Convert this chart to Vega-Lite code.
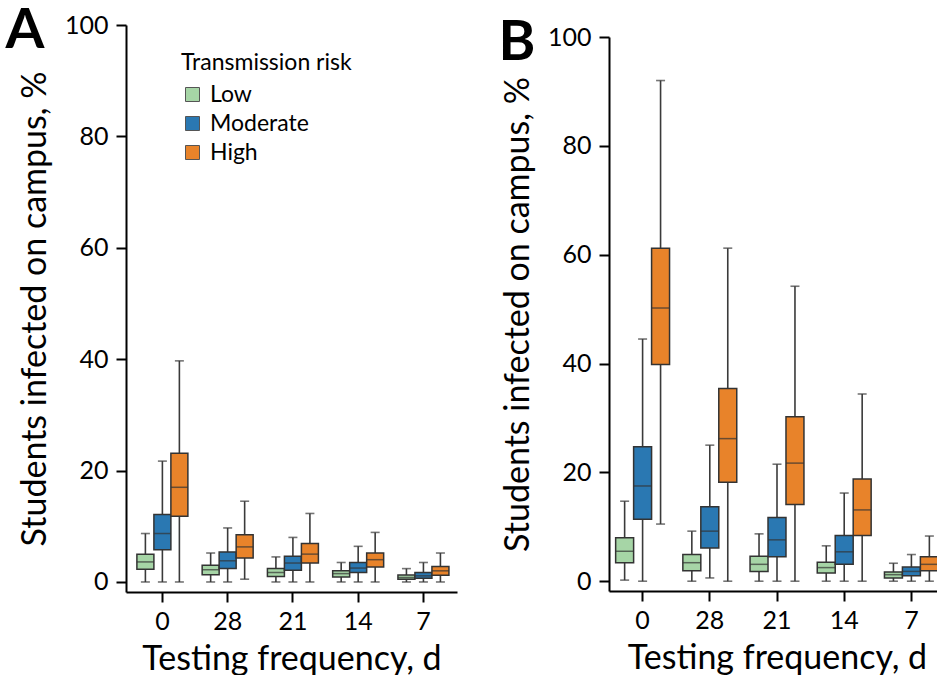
{
  "$schema": "https://vega.github.io/schema/vega-lite/v6.json",
  "description": "Box plots of students infected on campus by testing frequency and transmission risk, panels A and B.",
  "padding": {"left": 5, "top": 3, "right": 0, "bottom": 0},
  "datasets": {
    "a": [
      {"freq": 0, "risk": "Low", "lo": 0, "q1": 2.3, "med": 3.6, "q3": 5.0, "hi": 8.7},
      {"freq": 0, "risk": "Moderate", "lo": 0, "q1": 5.8, "med": 8.7, "q3": 12.1, "hi": 21.7},
      {"freq": 0, "risk": "High", "lo": 0, "q1": 11.8, "med": 17.0, "q3": 23.1, "hi": 39.7},
      {"freq": 28, "risk": "Low", "lo": 0, "q1": 1.3, "med": 2.2, "q3": 3.0, "hi": 5.2},
      {"freq": 28, "risk": "Moderate", "lo": 0, "q1": 2.4, "med": 3.8, "q3": 5.4, "hi": 9.7},
      {"freq": 28, "risk": "High", "lo": 0.5, "q1": 4.3, "med": 6.3, "q3": 8.5, "hi": 14.5},
      {"freq": 21, "risk": "Low", "lo": 0, "q1": 1.0, "med": 1.7, "q3": 2.4, "hi": 4.5},
      {"freq": 21, "risk": "Moderate", "lo": 0, "q1": 2.1, "med": 3.4, "q3": 4.6, "hi": 8.0},
      {"freq": 21, "risk": "High", "lo": 0, "q1": 3.4, "med": 5.0, "q3": 6.9, "hi": 12.3},
      {"freq": 14, "risk": "Low", "lo": 0, "q1": 0.9, "med": 1.5, "q3": 2.0, "hi": 3.5},
      {"freq": 14, "risk": "Moderate", "lo": 0, "q1": 1.7, "med": 2.5, "q3": 3.5, "hi": 6.4},
      {"freq": 14, "risk": "High", "lo": 0, "q1": 2.7, "med": 4.0, "q3": 5.2, "hi": 8.9},
      {"freq": 7, "risk": "Low", "lo": 0, "q1": 0.5, "med": 0.8, "q3": 1.25, "hi": 2.4},
      {"freq": 7, "risk": "Moderate", "lo": 0, "q1": 0.65, "med": 1.1, "q3": 1.7, "hi": 3.5},
      {"freq": 7, "risk": "High", "lo": 0, "q1": 1.2, "med": 2.0, "q3": 2.8, "hi": 5.2}
    ],
    "b": [
      {"freq": 0, "risk": "Low", "lo": 0.2, "q1": 3.4, "med": 5.5, "q3": 8.0, "hi": 14.7},
      {"freq": 0, "risk": "Moderate", "lo": 0, "q1": 11.4, "med": 17.5, "q3": 24.7, "hi": 44.5},
      {"freq": 0, "risk": "High", "lo": 10.5, "q1": 39.8, "med": 50.2, "q3": 61.2, "hi": 92.0},
      {"freq": 28, "risk": "Low", "lo": 0, "q1": 1.9, "med": 3.4, "q3": 4.9, "hi": 9.2},
      {"freq": 28, "risk": "Moderate", "lo": 0.6, "q1": 6.1, "med": 9.2, "q3": 13.7, "hi": 25.0},
      {"freq": 28, "risk": "High", "lo": 0, "q1": 18.2, "med": 26.2, "q3": 35.4, "hi": 61.2},
      {"freq": 21, "risk": "Low", "lo": 0, "q1": 1.8, "med": 3.1, "q3": 4.6, "hi": 8.7},
      {"freq": 21, "risk": "Moderate", "lo": 0, "q1": 4.5, "med": 7.6, "q3": 11.7, "hi": 21.5},
      {"freq": 21, "risk": "High", "lo": 0, "q1": 14.1, "med": 21.7, "q3": 30.2, "hi": 54.2},
      {"freq": 14, "risk": "Low", "lo": 0, "q1": 1.5, "med": 2.5, "q3": 3.5, "hi": 6.5},
      {"freq": 14, "risk": "Moderate", "lo": 0, "q1": 3.1, "med": 5.4, "q3": 8.4, "hi": 16.2},
      {"freq": 14, "risk": "High", "lo": 0, "q1": 8.4, "med": 13.1, "q3": 18.8, "hi": 34.4},
      {"freq": 7, "risk": "Low", "lo": 0, "q1": 0.6, "med": 1.2, "q3": 1.7, "hi": 3.3},
      {"freq": 7, "risk": "Moderate", "lo": 0, "q1": 1.0, "med": 1.8, "q3": 2.6, "hi": 4.9},
      {"freq": 7, "risk": "High", "lo": 0, "q1": 1.9, "med": 3.1, "q3": 4.5, "hi": 8.3}
    ]
  },
  "spacing": 41,
  "resolve": {"scale": {"color": "independent", "x": "independent", "y": "independent", "xOffset": "independent"}, "legend": {"color": "independent"}},
  "hconcat": [
    {
      "width": 331,
      "height": 567,
      "data": {"name": "a"},
      "title": {"text": "A", "anchor": "start", "frame": "bounds", "fontSize": 56, "fontWeight": "bold", "color": "black", "dx": -13, "dy": 47, "offset": 0},
      "encoding": {
        "x": {"field": "freq", "type": "ordinal", "sort": [0, 28, 21, 14, 7], "title": "Testing frequency, d",
              "scale": {"paddingInner": 0, "paddingOuter": 0.036, "align": 0.8}},
        "xOffset": {"field": "risk", "type": "nominal", "sort": ["Low", "Moderate", "High"],
                    "scale": {"paddingInner": 0, "paddingOuter": 0.42}}
      },
      "layer": [
        {
          "mark": {"type": "rule", "color": "#3a3a3a", "strokeWidth": 1.6},
          "encoding": {
            "y": {"field": "lo", "type": "quantitative", "title": "Students infected on campus, %",
                  "scale": {"domain": [-1.8, 100], "nice": false, "zero": false},
                  "axis": {"values": [0, 20, 40, 60, 80, 100]}},
            "y2": {"field": "hi"}
          }
        },
        {
          "mark": {"type": "tick", "color": "#3a3a3a", "thickness": 1.6, "size": 9},
          "encoding": {"y": {"field": "lo", "type": "quantitative", "title": "Students infected on campus, %"}}
        },
        {
          "mark": {"type": "tick", "color": "#3a3a3a", "thickness": 1.6, "size": 9},
          "encoding": {"y": {"field": "hi", "type": "quantitative", "title": "Students infected on campus, %"}}
        },
        {
          "mark": {"type": "bar", "stroke": "#333333", "strokeWidth": 1.5},
          "encoding": {
            "y": {"field": "q1", "type": "quantitative", "title": "Students infected on campus, %"},
            "y2": {"field": "q3"},
            "color": {"field": "risk", "type": "nominal", "sort": ["Low", "Moderate", "High"],
                      "title": "Transmission risk",
                      "scale": {"domain": ["Low", "Moderate", "High"], "range": ["#a6d5a6", "#2a78b2", "#e8832a"]},
                      "legend": {"orient": "none", "legendX": 55, "legendY": 27}}
          }
        },
        {
          "mark": {"type": "tick", "color": "#333333", "thickness": 1.5, "size": 17},
          "encoding": {"y": {"field": "med", "type": "quantitative", "title": "Students infected on campus, %"}}
        }
      ]
    },
    {
      "width": 336,
      "height": 566,
      "data": {"name": "b"},
      "title": {"text": "B", "anchor": "start", "frame": "bounds", "fontSize": 56, "fontWeight": "bold", "color": "black", "dx": -3, "dy": 47, "offset": 0},
      "encoding": {
        "x": {"field": "freq", "type": "ordinal", "sort": [0, 28, 21, 14, 7], "title": "Testing frequency, d",
              "scale": {"paddingInner": 0, "paddingOuter": 0}},
        "xOffset": {"field": "risk", "type": "nominal", "sort": ["Low", "Moderate", "High"],
                    "scale": {"paddingInner": 0, "paddingOuter": 0.37}}
      },
      "layer": [
        {
          "mark": {"type": "rule", "color": "#3a3a3a", "strokeWidth": 1.6},
          "encoding": {
            "y": {"field": "lo", "type": "quantitative", "title": "Students infected on campus, %",
                  "scale": {"domain": [-1.8, 100], "nice": false, "zero": false, "range": [566, 12]},
                  "axis": {"values": [0, 20, 40, 60, 80, 100]}},
            "y2": {"field": "hi"}
          }
        },
        {
          "mark": {"type": "tick", "color": "#3a3a3a", "thickness": 1.6, "size": 9},
          "encoding": {"y": {"field": "lo", "type": "quantitative", "title": "Students infected on campus, %"}}
        },
        {
          "mark": {"type": "tick", "color": "#3a3a3a", "thickness": 1.6, "size": 9},
          "encoding": {"y": {"field": "hi", "type": "quantitative", "title": "Students infected on campus, %"}}
        },
        {
          "mark": {"type": "bar", "stroke": "#333333", "strokeWidth": 1.5},
          "encoding": {
            "y": {"field": "q1", "type": "quantitative", "title": "Students infected on campus, %"},
            "y2": {"field": "q3"},
            "color": {"field": "risk", "type": "nominal",
                      "scale": {"domain": ["Low", "Moderate", "High"], "range": ["#a6d5a6", "#2a78b2", "#e8832a"]},
                      "legend": null}
          }
        },
        {
          "mark": {"type": "tick", "color": "#333333", "thickness": 1.5, "size": 18},
          "encoding": {"y": {"field": "med", "type": "quantitative", "title": "Students infected on campus, %"}}
        }
      ]
    }
  ],
  "config": {
    "font": "Lato",
    "view": {"stroke": null},
    "axis": {
      "grid": false,
      "domainColor": "black",
      "domainWidth": 2,
      "tickColor": "black",
      "tickWidth": 2,
      "tickSize": 10,
      "labelColor": "black",
      "labelFontSize": 25,
      "labelPadding": 8,
      "titleColor": "black",
      "titleFontSize": 34,
      "titleFontWeight": "normal",
      "titlePadding": 12
    },
    "axisX": {"labelAngle": 0, "labelPadding": 7, "titlePadding": 8},
    "legend": {
      "titleFontSize": 23,
      "titleFontWeight": "normal",
      "titleColor": "black",
      "titlePadding": 8,
      "labelFontSize": 23,
      "labelColor": "black",
      "labelOffset": 6,
      "symbolType": "square",
      "symbolSize": 196,
      "symbolStrokeColor": "#555555",
      "symbolStrokeWidth": 1,
      "rowPadding": 5
    }
  }
}
